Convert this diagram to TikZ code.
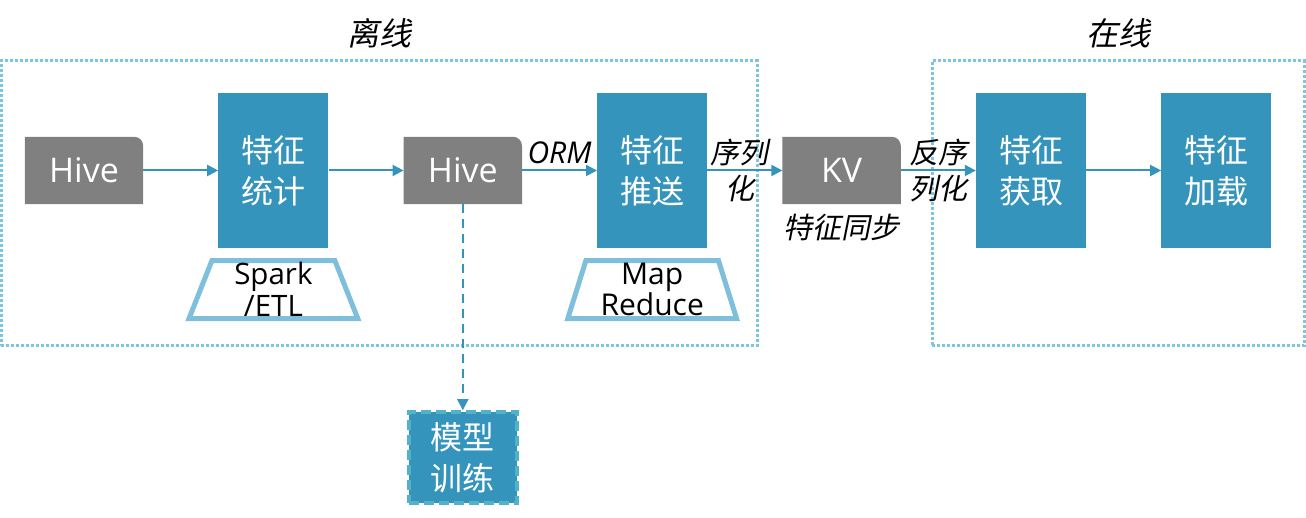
\documentclass[tikz,border=0pt]{standalone}
\usepackage{fontspec}
\setmainfont{Open Sans}
\newfontfamily\cjk{Noto Sans CJK SC}
\newfontfamily\cjkit[FakeSlant=0.2]{Noto Sans CJK SC}
\usepackage{xcolor}
\usetikzlibrary{shapes.geometric, arrows.meta, positioning, calc, backgrounds}

\definecolor{boxblue}{HTML}{3594BC}
\definecolor{boxgray}{HTML}{808080}
\definecolor{traplight}{HTML}{7EBFDC}
\definecolor{framedot}{HTML}{7FC4E0}
\definecolor{modeledge}{HTML}{52B2C9}

\begin{document}
\begin{tikzpicture}[node distance=75pt,
  graybox/.style={minimum width=118pt, minimum height=67pt, inner sep=0pt, text=white, font=\fontsize{34}{38}\selectfont},
  bluebox/.style={fill=boxblue, minimum width=110pt, minimum height=155pt, inner sep=0pt, text=white, align=center, font=\cjk\fontsize{32}{41}\selectfont},
  toolbox/.style={draw=traplight, line width=5pt, fill=white, trapezium, trapezium stretches=true, trapezium left angle=75, trapezium right angle=75, minimum width=169pt, minimum height=58pt, inner sep=0pt, align=center},
  frame/.style={draw=framedot, line width=3pt, dash pattern=on 3pt off 2pt, inner sep=0pt},
  flow/.style={draw=boxblue, line width=2pt, -{Triangle[length=11pt,width=11pt]}},
  tag/.style={font=\cjkit\fontsize{29}{36}\selectfont, align=center, inner sep=0pt}]
\useasboundingbox (0,0) rectangle (1306pt,518pt);

% Frames
\node[frame, minimum width=756pt, minimum height=285pt] (offline) at (379pt,314.5pt) {};
\node[frame, minimum width=372pt, minimum height=285pt] (online) at (1118pt,314.5pt) {};
\node[font=\cjkit\fontsize{32}{38}\selectfont] at ($(offline.north)+(0,26pt)$) {离线};
\node[font=\cjkit\fontsize{32}{38}\selectfont] at ($(online.north)+(0,26pt)$) {在线};

% Pipeline flow
\node[graybox] (hive1) at (84pt,347.5pt) {Hive};
\node[bluebox, right=of hive1] (stat) {特征\\统计};
\node[graybox, right=of stat] (hive2) {Hive};
\node[bluebox, right=of hive2] (push) {特征\\推送};
\node[graybox, right=of push] (kv) {KV};
\node[bluebox, right=of kv] (fetch) {特征\\获取};
\node[bluebox, right=of fetch] (load) {特征\\加载};
\node[toolbox, font=\fontsize{29.5}{32}\selectfont, below=10pt of stat] (spark) {Spark\\/ETL};
\node[toolbox, font=\fontsize{30}{28}\selectfont, below=10pt of push] (mr) {Map\\Reduce};
\node[bluebox, draw=modeledge, line width=3.5pt, dash pattern=on 10pt off 5pt, minimum width=108pt, minimum height=91pt, below=206pt of hive2] (model) {模型\\训练};
\node[tag, below=10pt of kv] (sync) {特征同步};

% Gray boxes, one round corner
\begin{scope}[on background layer]
\foreach \n in {hive1, hive2, kv}
  \fill[boxgray] (\n.south west) -- (\n.north west) -- ([xshift=-9pt]\n.north east) arc[start angle=90, end angle=0, radius=9pt] -- (\n.south east) -- cycle;
\end{scope}

% Arrows
\draw[flow] (hive1) -- (stat);
\draw[flow] (stat) -- (hive2);
\draw[flow] (hive2) -- node[above=5pt, inner sep=1pt, font=\itshape\fontsize{30}{34}\selectfont] {ORM} (push);
\draw[flow] (push) -- node[tag, xshift=-5pt] {序列\\化} (kv);
\draw[flow] (kv) -- node[tag] {反序\\列化} (fetch);
\draw[flow] (fetch) -- (load);
\draw[flow, dash pattern=on 9pt off 6pt] (hive2) -- (model);
\end{tikzpicture}
\end{document}
